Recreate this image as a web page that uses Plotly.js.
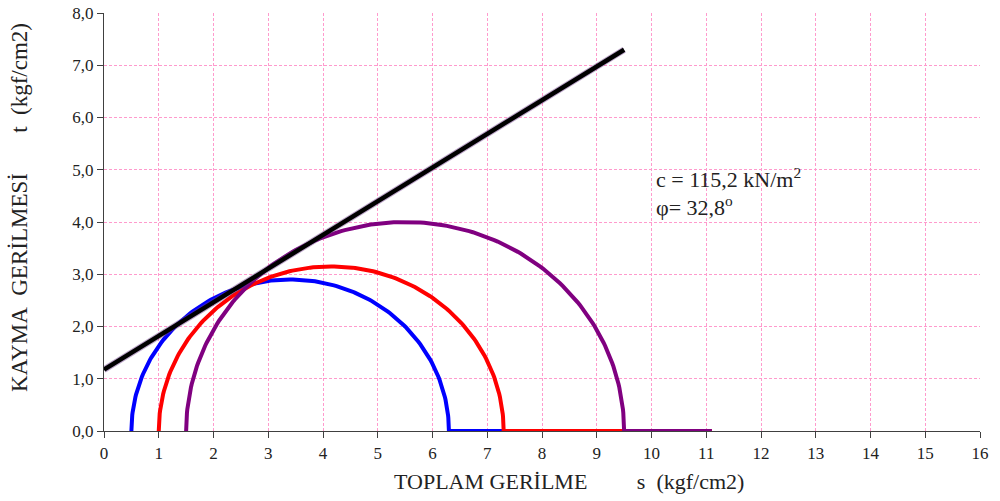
<!DOCTYPE html>
<html>
<head>
<meta charset="utf-8">
<script src="https://cdn.plot.ly/plotly-3.0.1.min.js"></script>
<style>html,body{margin:0;padding:0;background:#fff;}#chart{width:1000px;height:501px;}</style>
</head>
<body>
<div id="chart"></div>
<script>
// Mohr circles: minor and major principal stresses (kgf/cm2)
const sigma3 = [0.5, 1.0, 1.5];
const sigma1 = [6.3, 7.3, 9.5];
const circleColors = ['#0000FF', '#FF0000', '#800080'];
const tailEnd = 11.1;
// Failure envelope
const cohesion = 1.175;      // kgf/cm2 (115,2 kN/m2)
const phiDeg = 32.8;
const envX = [0, 9.5];
const xTicks = [0,1,2,3,4,5,6,7,8,9,10,11,12,13,14,15,16];
const yTicks = [0,1,2,3,4,5,6,7,8];

const traces = [];
for (let i = 0; i < sigma3.length; i++) {
  const c = (sigma3[i] + sigma1[i]) / 2, r = (sigma1[i] - sigma3[i]) / 2;
  const xs = [], ys = [];
  for (let k = 0; k <= 180; k++) {
    const a = Math.PI - k * Math.PI / 180;
    xs.push(c + r * Math.cos(a)); ys.push(r * Math.sin(a));
  }
  xs.push(tailEnd); ys.push(0);
  traces.push({x: xs, y: ys, mode: 'lines', line: {color: circleColors[i], width: 4}, hoverinfo: 'skip', cliponaxis: false});
}
const tanPhi = Math.tan(phiDeg * Math.PI / 180);
const envY = envX.map(v => cohesion + tanPhi * v);
traces.push({x: envX, y: envY, mode: 'lines', line: {color: 'rgba(110,60,140,0.45)', width: 6.5}, hoverinfo: 'skip'});
traces.push({x: envX, y: envY, mode: 'lines', line: {color: '#000000', width: 4.5}, hoverinfo: 'skip'});

const serif = 'Liberation Serif';
const tickFont = {family: serif, size: 17, color: '#222'};
const gridDash = '3px,2px';
const sp = n => '&nbsp;'.repeat(n);
const layout = {
  width: 1000, height: 501,
  margin: {l: 104, r: 20, t: 13, b: 70},
  showlegend: false,
  paper_bgcolor: '#fff', plot_bgcolor: '#fff',
  font: {family: serif},
  xaxis: {
    range: [0, 16], tickvals: xTicks, ticktext: xTicks.map(String),
    showgrid: true, gridcolor: '#FF9ACD', griddash: gridDash, gridwidth: 1,
    showline: true, linecolor: '#404040', linewidth: 1.2,
    ticks: 'outside', ticklen: 6, tickcolor: '#404040',
    zeroline: false, tickfont: tickFont, fixedrange: true
  },
  yaxis: {
    range: [0, 8], tickvals: yTicks, ticktext: yTicks.map(v => v.toFixed(1).replace('.', ',')),
    showgrid: true, gridcolor: '#FF9ACD', griddash: gridDash, gridwidth: 1,
    showline: true, linecolor: '#404040', linewidth: 1.2,
    ticks: 'outside', ticklen: 6, tickcolor: '#404040',
    zeroline: false, tickfont: tickFont, fixedrange: true
  },
  annotations: [
    {xref: 'paper', yref: 'paper', x: (569 - 104) / 876, y: -0.12, xanchor: 'center', yanchor: 'middle', showarrow: false,
     text: 'TOPLAM GERİLME' + sp(9) + 's' + sp(2) + '(kgf/cm2)',
     font: {family: serif, size: 22, color: '#222'}},
    {xref: 'paper', yref: 'paper', x: -0.097, y: (431 - 208) / 418, xanchor: 'center', yanchor: 'middle', showarrow: false, textangle: -90,
     text: 'KAYMA' + sp(2) + 'GERİLMESİ' + sp(7) + 't' + sp(2) + '(kgf/cm2)',
     font: {family: serif, size: 23, color: '#222'}},
    {xref: 'x', yref: 'y', x: 10.05, y: 4.85, xanchor: 'left', yanchor: 'middle', showarrow: false,
     text: 'c = 115,2 kN/m<sup>2</sup>', font: {family: serif, size: 22, color: '#222'}},
    {xref: 'x', yref: 'y', x: 10.05, y: 4.3, xanchor: 'left', yanchor: 'middle', showarrow: false,
     text: 'φ= 32,8<sup>o</sup>', font: {family: serif, size: 22, color: '#222'}}
  ]
};
Plotly.newPlot('chart', traces, layout, {displayModeBar: false, staticPlot: true});
</script>
</body>
</html>
